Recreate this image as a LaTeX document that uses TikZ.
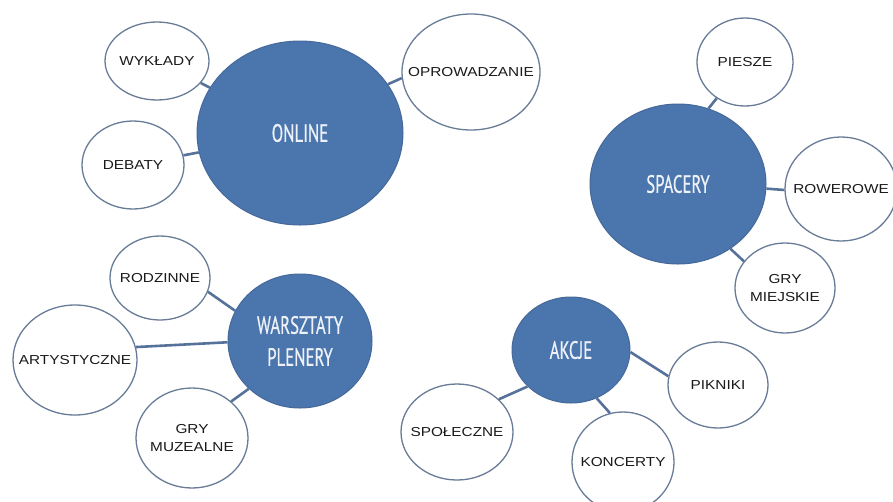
\documentclass[tikz,border=0pt]{standalone}
\usepackage{fontspec}
\setmainfont{Liberation Sans}
\newfontfamily\topicfont[FakeStretch=0.67,FakeBold=0.6]{PT Sans}
\newfontfamily\itemfont[FakeStretch=1.18]{Liberation Sans}
\usetikzlibrary{shapes.geometric}
\definecolor{hubfill}{HTML}{4A75AD}
\definecolor{hubedge}{HTML}{46699A}
\definecolor{hubtxt}{HTML}{EEF2F8}
\definecolor{leafedge}{HTML}{687C98}
\definecolor{leaftxt}{HTML}{1A1A1A}
\definecolor{linkcol}{HTML}{56729A}
\tikzset{
  dims/.style 2 args={minimum width=#1pt, minimum height=#2pt},
  hub/.style={ellipse, fill=hubfill, draw=hubedge, line width=1pt, inner sep=0pt},
  leaf/.style={ellipse, fill=white, draw=leafedge, line width=1.3pt, inner sep=0pt},
  hubtext/.style={font=\topicfont\fontsize{25}{32}\selectfont, text=hubtxt, align=center, inner sep=0pt},
  leaftext/.style={font=\itemfont\fontsize{13}{18.5}\selectfont, text=leaftxt, align=center, inner sep=0pt},
  link/.style={draw=linkcol, line width=2.6pt}
}
\begin{document}
\begin{tikzpicture}[x=1pt,y=-1pt]
  \fill[white] (0,0) rectangle (893,501);
  \useasboundingbox (0,0) rectangle (893,501);
  \clip (0,0) rectangle (893,501);

  % ONLINE cluster
  \node[hub,  dims={206}{184}, label={[hubtext]center:ONLINE}] (online) at (300,133) {};
  \node[leaf, dims={104}{78},  label={[leaftext]center:WYKŁADY}] (wyk) at (157,61) {};
  \node[leaf, dims={102}{88},  label={[leaftext]center:DEBATY}] (deb) at (133,165) {};
  \node[leaf, dims={138}{116}, label={[leaftext]center:OPROWADZANIE}] (opr) at (471,72) {};

  % SPACERY cluster
  \node[hub,  dims={176}{160}, label={[hubtext]center:SPACERY}] (spa) at (678,184) {};
  \node[leaf, dims={96}{88},   label={[leaftext]center:PIESZE}] (pie) at (745,62) {};
  \node[leaf, dims={112}{104}, label={[leaftext]center:ROWEROWE}] (row) at (841,189) {};
  \node[leaf, dims={100}{90},  label={[leaftext]center:GRY\\MIEJSKIE}] (grym) at (785,288) {};

  % WARSZTATY cluster
  \node[hub,  dims={144}{134}, label={[hubtext]center:WARSZTATY\\PLENERY}] (war) at (300,341) {};
  \node[leaf, dims={100}{84},  label={[leaftext]center:RODZINNE}] (rod) at (160,278) {};
  \node[leaf, dims={124}{110}, label={[leaftext]center:ARTYSTYCZNE}] (art) at (75,360) {};
  \node[leaf, dims={112}{100}, label={[leaftext]center:GRY\\MUZEALNE}] (grymu) at (192,438) {};

  % AKCJE cluster
  \node[hub,  dims={118}{106}, label={[hubtext]center:AKCJE}] (akc) at (571,350) {};
  \node[leaf, dims={100}{86},  label={[leaftext]center:PIKNIKI}] (pik) at (718,385) {};
  \node[leaf, dims={112}{96},  label={[leaftext]center:SPOŁECZNE}] (spo) at (457,432) {};
  \node[leaf, dims={102}{100}, label={[leaftext]center:KONCERTY}] (kon) at (623,462) {};

  % connectors
  \draw[link] (wyk) -- (online);
  \draw[link] (deb) -- (online);
  \draw[link] (online.29) -- (opr.185);
  \draw[link] (spa.68) -- (pie.232);
  \draw[link] (spa.-3) -- (row.181);
  \draw[link] (spa.-51) -- (grym.147);
  \draw[link] (rod.-16) -- (war.155);
  \draw[link] (art.12) -- (war.181);
  \draw[link] (grymu.43) -- (war.223);
  \draw[link] (spo.38) -- (akc.220);
  \draw[link] (akc.-62) -- (kon.105);
  \draw[link] (akc.-2) -- (pik.170);
\end{tikzpicture}
\end{document}
